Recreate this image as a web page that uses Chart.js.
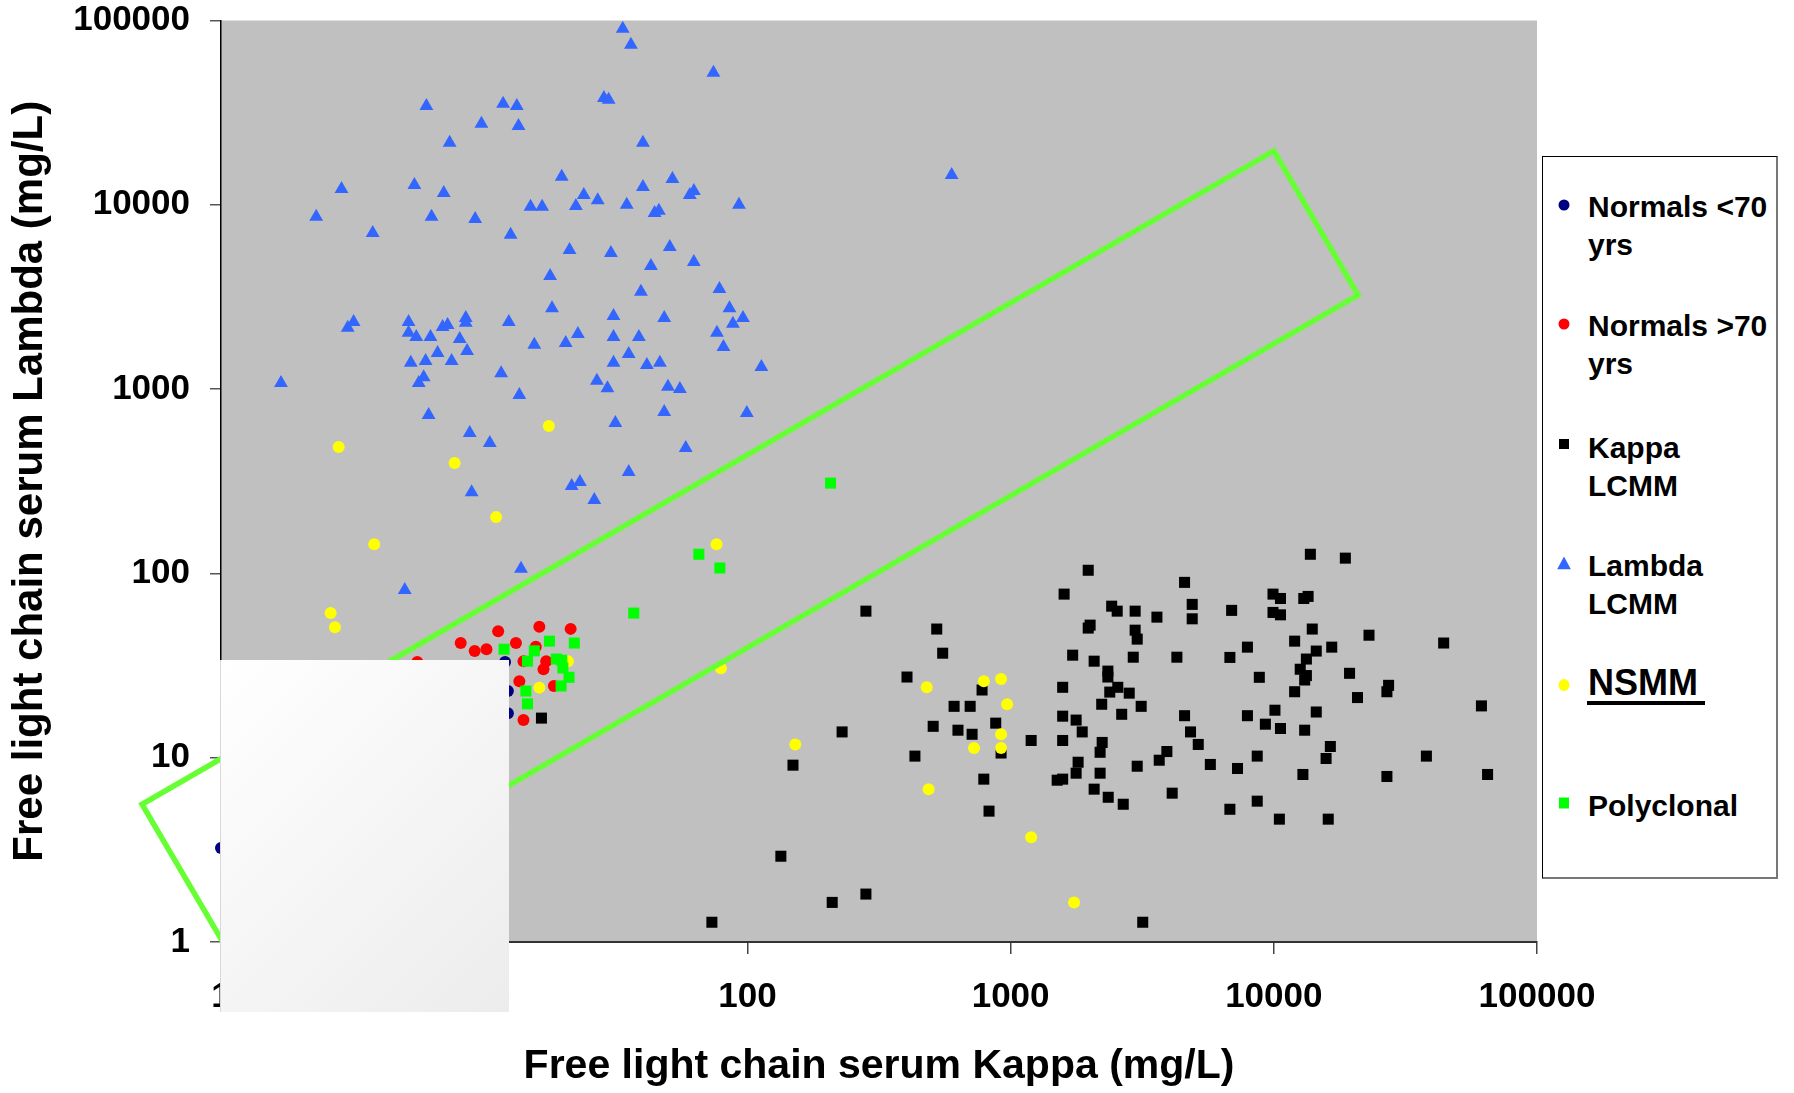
<!DOCTYPE html>
<html>
<head>
<meta charset="utf-8">
<title>Free light chain serum Kappa vs Lambda</title>
<script src="https://cdn.jsdelivr.net/npm/chart.js@4.4.1/dist/chart.umd.min.js"></script>
<style>
  html, body { margin: 0; padding: 0; background: #fff; }
  #wrap { position: relative; width: 1794px; height: 1093px; font-family: 'Liberation Sans', Arial, sans-serif; }
  #chart { position: absolute; left: 0; top: 0; }
  #legend {
    position: absolute; left: 1542px; top: 156px; width: 236px; height: 723px; box-sizing: border-box;
    background: #fff; border-top: 1px solid #000; border-left: 1px solid #000;
    border-right: 2px solid #777; border-bottom: 2px solid #777;
  }
  .entry { position: absolute; left: 45px; font-weight: bold; font-size: 30px; line-height: 38px; color: #000; white-space: nowrap; }
  .mark { position: absolute; left: 21px; transform: translate(-50%, -50%); }
  #nsmm-line { position: absolute; left: 44px; top: 544px; width: 118px; height: 4px; background: #000; }
  #mask {
    position: absolute; left: 220px; top: 660px; width: 289px; height: 352px; box-sizing: border-box;
    background: linear-gradient(135deg, #ffffff 0%, #ececec 100%); border-left: 1px solid #d9d9d9;
  }
</style>
</head>
<body>
<div id="wrap">
  <canvas id="chart" width="1794" height="1093"></canvas>
  <div id="legend">
    <svg class="mark" style="top:48px" width="12" height="12"><circle cx="6" cy="6" r="5.5" fill="#000080"/></svg>
    <div class="entry" style="top:31px">Normals &lt;70<br>yrs</div>
    <svg class="mark" style="top:167px" width="12" height="12"><circle cx="6" cy="6" r="5.5" fill="#ff0000"/></svg>
    <div class="entry" style="top:150px">Normals &gt;70<br>yrs</div>
    <svg class="mark" style="top:287px" width="11" height="11"><rect x="0.5" y="0.5" width="10" height="10" fill="#000"/></svg>
    <div class="entry" style="top:272px">Kappa<br>LCMM</div>
    <svg class="mark" style="top:406px" width="14" height="13"><polygon points="7,0 14,13 0,13" fill="#3366ff"/></svg>
    <div class="entry" style="top:390px">Lambda<br>LCMM</div>
    <svg class="mark" style="top:528px" width="12" height="13"><ellipse cx="6" cy="6.5" rx="5.5" ry="6" fill="#ffff00"/></svg>
    <div class="entry" style="top:505px;font-size:36px;line-height:42px">NSMM</div>
    <div id="nsmm-line"></div>
    <svg class="mark" style="top:646px" width="11" height="12"><rect x="0.5" y="0.5" width="10" height="11" fill="#00ff00"/></svg>
    <div class="entry" style="top:630px">Polyclonal</div>
  </div>
  <div id="mask"></div>
</div>
<script>
const FONT = "'Liberation Sans', Arial, sans-serif";

const xTicks = [1, 10, 100, 1000, 10000, 100000];
const xTickLabels = ['1', '10', '100', '1000', '10000', '100000'];
const yTicks = [1, 10, 100, 1000, 10000, 100000];
const yTickLabels = ['1', '10', '100', '1000', '10000', '100000'];

const seriesNames = ['Normals <70 yrs', 'Normals >70 yrs', 'Kappa LCMM', 'Lambda LCMM', 'NSMM', 'Polyclonal'];

// each point: [kappa mg/L, lambda mg/L]
const normalsUnder70 = [[12.0, 33.1], [12.3, 23.0], [12.3, 17.4], [1.0, 3.24]];

const normalsOver70 = [
  [11.3, 48.6], [16.2, 51.3], [21.3, 50.0], [8.14, 41.9], [9.20, 37.9], [10.2, 38.8], [13.2, 41.9],
  [15.7, 40.0], [5.57, 33.1], [14.1, 33.4], [17.2, 33.4], [16.8, 30.2], [13.6, 26.0], [18.4, 24.5], [14.1, 16.0]
];

const kappaLCMM = [
  [16.5, 16.4], [282, 62.4], [524, 49.9], [552, 36.9], [404, 27.4], [779, 23.3], [610, 19.0], [702, 19.0],
  [508, 14.8], [631, 14.1], [714, 13.4], [878, 15.4], [920, 10.6], [229, 13.8], [149, 9.11], [433, 10.2], [791, 7.65],
  [1972, 104], [1597, 77.2], [2421, 66.4], [2541, 62.4], [2973, 62.4], [3597, 57.9], [2005, 52.4], [1972, 50.5],
  [2973, 49.2], [3027, 44.0], [1721, 36.0], [2077, 33.4], [2924, 35.1], [4283, 35.1], [1577, 24.1], [2342, 29.5],
  [2342, 27.4], [2381, 22.7], [2554, 24.1], [2823, 22.4], [2219, 19.5], [3134, 19.0], [2643, 17.2], [1577, 16.8],
  [1774, 16.0], [1871, 13.8], [1197, 12.4], [1577, 12.4], [2228, 12.1], [2188, 10.7], [3924, 10.8], [3670, 9.69],
  [3027, 8.99], [1805, 9.45], [1774, 8.24], [2188, 8.24], [1577, 7.65], [1503, 7.55], [2077, 6.75], [2349, 6.10],
  [4111, 6.42], [2679, 5.59],
  [4581, 89.4], [4898, 67.9], [4898, 56.7], [4581, 16.9], [4826, 13.8], [5164, 11.8],
  [13770, 127], [18700, 121], [6915, 63.0], [9930, 77.2], [10600, 73.1], [13000, 73.1], [13500, 75.0],
  [9930, 61.4], [10600, 59.6], [14000, 49.9], [23000, 46.2], [44200, 41.9], [12000, 42.9], [7940, 39.8],
  [16600, 39.8], [14500, 37.9], [6810, 35.0], [13300, 34.3], [12600, 30.2], [13300, 27.9], [13100, 26.4],
  [8810, 27.3], [19400, 28.7], [27300, 24.7], [26900, 22.8], [12000, 22.8], [20800, 21.2], [61500, 19.1],
  [10100, 18.1], [7940, 16.9], [14500, 17.7], [9290, 15.2], [10600, 14.4], [13100, 14.1], [16400, 11.5],
  [15800, 9.90], [8650, 10.2], [5740, 9.19], [7280, 8.74], [38000, 10.2], [12900, 8.11], [26900, 7.91],
  [64900, 8.11], [8650, 5.81], [6810, 5.25], [10500, 4.64], [16100, 4.64],
  [828, 5.13], [134, 2.92], [210, 1.64], [282, 1.82], [73.3, 1.28], [3177, 1.28]
];

const lambdaLCMM = [
  [6.03, 34400], [11.8, 35300], [13.3, 34400], [9.76, 27500], [13.5, 26800], [7.39, 21700], [19.7, 14200],
  [2.87, 12200], [5.43, 12800], [7.02, 11600], [23.9, 11300], [22.3, 9860], [15.0, 9750], [16.6, 9750],
  [27.0, 10600], [2.30, 8600], [6.31, 8600], [9.24, 8380], [3.77, 7040], [12.6, 6870], [21.1, 5690],
  [17.8, 4110], [18.1, 2750], [3.19, 2310], [3.03, 2150], [5.16, 2310], [5.16, 2020], [5.52, 1920],
  [6.25, 1920], [6.95, 2170], [7.26, 2230], [8.51, 2430], [8.51, 2290], [8.07, 1870], [8.61, 1610],
  [6.65, 1570], [5.99, 1420], [5.26, 1390], [7.52, 1420], [12.4, 2310], [15.5, 1740], [20.4, 1780],
  [22.7, 1990], [11.6, 1220], [5.89, 1160], [5.64, 1080], [1.69, 1080], [26.8, 1110], [13.6, 929],
  [6.15, 723], [8.81, 578], [10.5, 510], [8.96, 276], [21.5, 298], [23.1, 313], [26.2, 250], [13.8, 106], [4.99, 81.2],
  [33.6, 90100], [36.1, 73800], [74.3, 52000], [28.5, 38000], [29.7, 37100], [40.1, 21700], [597, 14500],
  [51.9, 13800], [40.1, 12500], [62.6, 11900], [60.4, 11300], [34.8, 10000], [46.1, 9270], [44.4, 9040],
  [92.9, 10000], [30.3, 5480], [50.7, 5910], [43.0, 4660], [62.6, 4900], [39.4, 3370], [78.3, 3490],
  [31.0, 2490], [48.3, 2430], [85.5, 2750], [96.2, 2430], [88.1, 2260], [31.0, 1920], [38.7, 1920],
  [76.6, 2020], [81.1, 1690], [35.4, 1550], [31.0, 1390], [41.5, 1350], [46.5, 1390], [113, 1320],
  [29.4, 1010], [49.9, 1030], [55.4, 1000], [48.3, 751], [31.5, 655], [99.5, 741], [58.3, 479], [35.4, 355]
];

const nsmm = [
  [2.80, 485], [7.72, 397], [17.6, 631], [11.1, 202], [3.82, 144], [2.61, 60.9], [2.71, 51.1], [16.2, 24.0],
  [20.8, 33.4], [76.3, 144], [79.3, 30.6], [152, 11.8], [480, 24.1], [791, 26.0], [920, 26.7], [970, 19.5],
  [920, 13.4], [726, 11.3], [920, 11.3], [488, 6.75], [1197, 3.70], [1742, 1.64]
];

const polyclonal = [
  [11.9, 38.8], [15.5, 38.0], [17.7, 42.9], [22.0, 41.9], [14.6, 33.4], [18.8, 34.3], [19.7, 33.8],
  [19.9, 30.7], [21.0, 27.3], [19.6, 24.5], [14.4, 23.0], [14.6, 19.6], [207, 309], [65.4, 127],
  [78.6, 107], [37.0, 60.9]
];

// corners of the green box drawn on the plot (kappa, lambda)
const boxKappa = [1.05, 0.501, 10000, 20900, 1.05];
const boxLambda = [0.924, 5.59, 19600, 3240, 0.924];

const toPoints = arr => arr.map(([x, y]) => ({ x, y }));

function series(label, data, color, style, radius, order) {
  return {
    label,
    data: toPoints(data),
    pointBackgroundColor: color,
    pointBorderColor: color,
    pointBorderWidth: 0,
    pointStyle: style,
    pointRadius: radius,
    order,
    clip: false
  };
}

const plotBackground = {
  id: 'plotBackground',
  beforeDraw(chart) {
    const { ctx, chartArea: a } = chart;
    ctx.save();
    ctx.fillStyle = '#c0c0c0';
    ctx.fillRect(a.left, a.top, a.right - a.left, a.bottom - a.top);
    ctx.restore();
  }
};

const tickFont = { family: FONT, size: 35, weight: 'bold', lineHeight: 1 };

new Chart(document.getElementById('chart'), {
  type: 'scatter',
  data: {
    datasets: [
      {
        label: 'box',
        data: boxKappa.map((x, i) => ({ x, y: boxLambda[i] })),
        showLine: true,
        borderColor: '#66ff33',
        borderWidth: 5.5,
        borderJoinStyle: 'miter',
        pointRadius: 0,
        tension: 0,
        fill: false,
        order: 0,
        clip: false
      },
      series(seriesNames[5], polyclonal, '#00ff00', 'rect', 7.8, 1),
      series(seriesNames[4], nsmm, '#ffff00', 'circle', 6, 2),
      series(seriesNames[3], lambdaLCMM, '#3366ff', 'triangle', 8, 3),
      series(seriesNames[2], kappaLCMM, '#000000', 'rect', 7.8, 4),
      series(seriesNames[1], normalsOver70, '#ff0000', 'circle', 6, 5),
      series(seriesNames[0], normalsUnder70, '#000080', 'circle', 6, 6)
    ]
  },
  options: {
    responsive: false,
    maintainAspectRatio: false,
    devicePixelRatio: 1,
    animation: false,
    events: [],
    layout: { padding: { left: 0, top: 20.5, right: 257, bottom: 0 } },
    plugins: { legend: { display: false }, tooltip: { enabled: false } },
    scales: {
      x: {
        type: 'logarithmic',
        min: 1,
        max: 100000,
        afterBuildTicks: s => { s.ticks = xTicks.map(v => ({ value: v })); },
        afterFit: s => { s.height = 151; },
        ticks: {
          callback: v => xTickLabels[xTicks.indexOf(v)] ?? '',
          color: '#000',
          font: tickFont,
          padding: 26,
          maxRotation: 0,
          autoSkip: false
        },
        grid: { drawOnChartArea: false, drawTicks: true, tickLength: 12, color: '#444', lineWidth: 1.5 },
        border: { display: true, color: '#333', width: 2 },
        title: {
          display: true,
          text: 'Free light chain serum Kappa (mg/L)',
          color: '#000',
          font: { family: FONT, size: 41, weight: 'bold', lineHeight: 1.2 },
          padding: { top: 0, bottom: 2 }
        }
      },
      y: {
        type: 'logarithmic',
        min: 1,
        max: 100000,
        afterBuildTicks: s => { s.ticks = yTicks.map(v => ({ value: v })); },
        afterFit: s => { s.width = 221; s.paddingTop = 0; s.paddingBottom = 0; },
        ticks: {
          callback: v => yTickLabels[yTicks.indexOf(v)] ?? '',
          color: '#000',
          font: tickFont,
          padding: 20,
          autoSkip: false
        },
        grid: { drawOnChartArea: false, drawTicks: true, tickLength: 11, color: '#555', lineWidth: 1.5 },
        border: { display: true, color: '#000', width: 1.5 },
        title: {
          display: true,
          text: 'Free light chain serum Lambda (mg/L)',
          color: '#000',
          font: { family: FONT, size: 42, weight: 'bold', lineHeight: 1.2 },
          padding: { top: 5, bottom: 0 }
        }
      }
    }
  },
  plugins: [plotBackground]
});
</script>
</body>
</html>
